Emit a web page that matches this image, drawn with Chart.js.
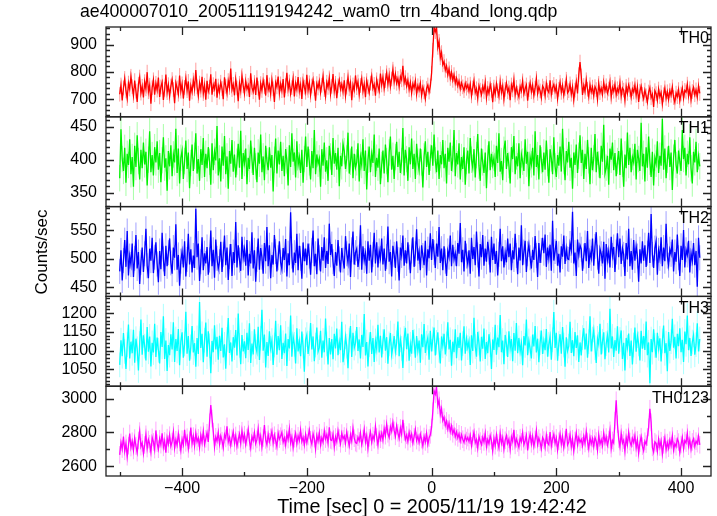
<!DOCTYPE html>
<html><head><meta charset="utf-8">
<script src="https://cdn.jsdelivr.net/npm/chart.js@4.4.1/dist/chart.umd.min.js"></script>
<style>
html,body{margin:0;padding:0;background:#fff;}
#wrap{position:relative;width:717px;height:516px;overflow:hidden;}
#c{position:absolute;left:0;top:0;}
.t{position:absolute;font-family:"Liberation Sans",Arial,Helvetica,sans-serif;color:#000;white-space:nowrap;line-height:1;}
#ylab{width:100px;height:20px;line-height:20px;text-align:center;transform:rotate(-90deg);transform-origin:50% 50%;}
</style></head><body>
<div id="wrap">
<canvas id="c" width="717" height="516"></canvas>
<div class="t" id="title" style="left:80px;top:3px;font-size:17.7px;">ae400007010_20051119194242_wam0_trn_4band_long.qdp</div>
<div class="t" id="ylab" style="left:-8px;top:242px;font-size:17px;">Counts/sec</div>
<div class="t" id="xlab" style="left:432px;top:497px;font-size:19.8px;transform:translateX(-50%);">Time [sec] 0 = 2005/11/19 19:42:42</div>
</div>
<script>
// ---- data ----
const timeStart = -500;   // first bin centre (sec)
const timeStep = 2;       // bin width (sec)
const seriesNames = ['TH0','TH1','TH2','TH3','TH0123'];
const th0 = [
718,752,695,741,776,730,702,759,737,784,
746,713,768,729,690,755,781,722,747,706,
764,738,799,727,751,683,742,771,716,758,
733,779,708,745,762,697,736,790,724,753,
711,748,772,735,685,760,741,718,787,729,
756,702,743,777,731,765,694,749,726,770,
738,807,745,712,759,733,782,720,751,698,
767,728,744,791,716,753,737,775,705,748,
726,762,739,700,780,747,721,768,743,812,
735,754,714,773,741,692,758,730,786,749,
720,766,737,751,708,795,743,727,761,715,
779,740,698,757,732,769,746,713,788,734,
752,719,771,738,690,761,745,783,722,756,
731,774,706,750,797,737,763,719,742,776,
710,758,736,781,729,753,701,767,744,725,
789,732,760,715,748,772,739,694,757,741,
766,724,751,785,735,709,762,743,778,718,
747,792,730,758,703,749,771,736,755,727,
769,712,744,781,738,760,696,752,733,787,
742,763,717,750,776,729,755,707,768,745,
723,759,785,739,754,713,771,748,730,794,
752,781,739,768,797,755,788,746,774,810,
763,792,758,776,745,783,771,822,760,779,
748,770,735,761,722,756,741,767,718,749,
733,758,714,744,727,701,739,752,726,748,
795,880,965,948,962,890,912,852,871,826,
838,806,822,789,811,776,798,769,790,758,
777,749,766,738,760,745,731,758,740,752,
729,755,712,741,768,724,738,703,749,733,
716,747,728,762,705,739,721,754,732,689,
744,718,757,731,710,763,725,748,700,736,
759,727,741,696,752,734,771,715,743,722,
708,746,730,767,719,738,752,694,735,760,
727,751,713,740,776,721,745,730,705,748,
739,712,758,733,724,769,717,742,754,728,
747,701,736,762,725,750,714,739,773,723,
731,756,718,745,697,733,764,721,790,836,
785,715,750,728,771,736,709,753,726,744,
712,746,735,699,758,724,740,717,762,730,
749,722,737,764,708,743,729,755,716,738,
725,760,711,741,733,696,747,721,752,735,
707,738,726,752,714,745,690,729,748,718,
701,733,712,689,726,742,705,718,671,731,
720,695,737,709,724,682,716,741,703,727,
698,731,714,745,706,688,722,709,735,694,
719,740,703,732,726,755,711,738,697,728,
743,716,734,707,749,721];
const th1 = [
372,446,401,383,418,365,409,392,431,378,
404,359,421,389,437,398,370,415,387,426,
393,412,361,400,443,381,407,376,419,396,
428,385,410,366,399,434,388,402,353,413,
390,422,375,408,396,447,380,417,364,403,
414,371,398,429,386,411,357,395,423,383,
406,440,379,401,368,416,392,433,374,409,
387,419,397,362,425,384,412,399,451,376,
402,367,420,391,436,378,405,356,413,394,
430,382,408,373,397,424,388,444,371,410,
395,417,363,403,386,429,400,377,418,390,
366,411,394,438,381,405,369,421,398,384,
419,388,407,352,400,432,379,414,393,427,
383,406,375,416,399,361,422,389,440,397,
411,373,428,392,404,380,415,365,401,435,
389,420,396,370,413,387,445,378,408,394,
402,359,416,391,426,382,399,368,421,405,
377,433,394,410,385,418,360,406,390,424,
413,386,402,441,379,397,420,372,409,388,
396,425,367,404,392,431,383,414,355,400,
420,381,409,395,438,374,403,388,417,363,
392,414,379,423,398,366,411,435,385,406,
371,404,427,389,412,380,398,448,376,415,
401,368,419,393,432,386,409,371,424,397,
384,417,396,358,405,428,389,412,377,403,
422,391,438,399,381,414,371,407,393,430,
387,409,364,418,397,426,383,401,445,375,
410,393,425,370,404,386,419,362,398,414,
379,433,400,388,416,373,407,439,391,368,
417,396,380,411,357,402,428,384,409,392,
403,374,421,395,440,382,398,369,415,429,
386,410,392,364,419,401,436,378,405,390,
425,372,408,397,383,431,394,412,360,404,
393,418,376,443,389,407,370,422,399,381,
411,385,429,395,365,416,402,378,434,390,
374,407,391,420,382,447,398,369,413,396,
427,388,403,356,411,392,423,380,406,437,
395,415,371,409,386,430,399,363,418,384,
402,439,381,412,393,372,421,397,453,379,
388,406,362,417,400,426,384,410,375,398,
413,377,432,394,359,408,387,441,392,418,
381,404,396,424,370,415,401,383,456,390,
409,367,419,388,435,397,374,412,361,403,
394,428,380,406,391,462,385,417,372,400,
421,389,411,354,403,430,392,379,414,397,
383,445,401,418,376,409,393,434,387,364,
412,396,427,381,405,390];
const th2 = [
478,515,462,497,533,486,549,471,505,490,
527,468,501,542,483,512,456,494,520,477,
509,553,488,466,518,497,537,475,503,529,
491,459,514,482,546,500,470,523,487,511,
536,493,474,520,502,561,481,507,453,496,
513,485,531,469,499,544,490,517,476,506,
484,588,503,527,461,495,538,480,510,492,
521,472,498,550,487,516,467,534,501,483,
495,530,477,508,541,489,520,463,504,526,
470,512,493,565,485,524,498,479,539,502,
517,488,533,471,509,492,547,483,515,460,
499,536,481,519,503,474,528,496,556,487,
524,466,507,490,542,513,478,502,531,494,
482,519,498,535,469,510,489,582,505,476,
511,493,544,480,523,501,465,529,496,518,
489,527,505,472,515,550,487,509,473,536,
502,478,521,497,538,484,514,491,562,507,
526,495,470,512,488,533,500,476,519,498,
483,540,509,493,527,468,516,548,490,511,
518,486,503,559,481,522,497,510,474,531,
497,525,476,508,546,492,529,485,514,501,
536,490,518,479,504,557,495,512,469,523,
508,484,531,499,462,520,506,541,488,515,
492,529,503,475,514,538,486,509,552,497,
513,480,524,506,489,532,471,517,501,545,
498,535,511,484,527,504,556,493,518,480,
522,496,470,514,503,541,487,525,499,510,
487,528,509,563,494,516,478,532,505,491,
515,474,537,500,521,489,548,507,469,526,
503,542,488,518,495,530,512,476,539,498,
527,491,514,471,508,553,496,522,485,511,
494,536,503,527,480,515,499,544,506,473,
520,497,559,489,512,532,477,509,525,502,
483,516,498,540,506,468,528,493,515,537,
510,543,486,520,501,525,479,567,497,513,
532,488,509,476,522,504,541,491,518,500,
499,527,515,583,492,511,470,534,507,524,
517,479,505,528,496,549,484,512,501,536,
488,522,547,503,474,518,509,492,530,465,
526,498,514,485,539,506,521,477,512,545,
503,536,491,519,508,470,528,499,553,487,
514,481,533,497,522,505,460,517,492,531,
497,524,486,510,546,493,579,508,484,519,
531,472,515,501,538,487,520,496,562,505,
489,517,508,534,478,512,495,543,502,470,
523,498,551,485,516,507,532,476,510,496,
528,489,514,451,537,502];
const th3 = [
1062,1128,1085,1147,1098,1051,1116,1170,1079,1124,
1093,1156,1068,1132,1105,1047,1119,1183,1089,1141,
1112,1074,1163,1097,1138,1058,1121,1095,1172,1083,
1135,1101,1066,1150,1110,1192,1078,1127,1046,1115,
1088,1144,1103,1176,1070,1131,1099,1158,1061,1125,
1149,1081,1118,1204,1092,1139,1073,1110,1166,1095,
1120,1057,1134,1091,1230,1107,1145,1069,1128,1175,
1084,1152,1113,1040,1126,1096,1168,1103,1137,1076,
1140,1099,1161,1082,1117,1052,1130,1187,1094,1122,
1071,1136,1108,1155,1087,1199,1114,1064,1142,1098,
1125,1080,1148,1102,1173,1067,1119,1090,1157,1111,
1096,1164,1075,1133,1209,1100,1143,1055,1123,1086,
1152,1106,1127,1062,1115,1180,1089,1139,1101,1168,
1078,1121,1093,1146,1059,1131,1106,1194,1084,1137,
1117,1066,1160,1098,1125,1085,1151,1112,1044,1129,
1143,1091,1119,1174,1103,1138,1072,1115,1162,1097,
1108,1153,1081,1127,1096,1186,1118,1063,1134,1090,
1131,1077,1145,1106,1159,1088,1124,1101,1177,1069,
1094,1137,1112,1053,1128,1166,1083,1148,1107,1120,
1163,1099,1130,1079,1142,1110,1198,1087,1123,1058,
1116,1150,1091,1134,1070,1126,1104,1169,1095,1140,
1082,1124,1157,1100,1136,1065,1118,1147,1089,1111,
1139,1097,1121,1178,1085,1129,1106,1054,1133,1161,
1104,1146,1073,1117,1092,1155,1125,1081,1139,1100,
1127,1068,1144,1109,1171,1094,1120,1135,1076,1153,
1098,1131,1162,1087,1122,1149,1101,1066,1138,1113,
1145,1090,1118,1176,1103,1129,1060,1124,1096,1157,
1080,1136,1107,1148,1074,1119,1165,1092,1132,1108,
1126,1062,1141,1099,1188,1111,1084,1150,1120,1071,
1137,1105,1159,1078,1123,1093,1144,1116,1051,1130,
1102,1169,1089,1135,1109,1195,1096,1127,1064,1142,
1118,1083,1152,1106,1131,1072,1147,1100,1174,1093,
1134,1097,1120,1061,1139,1114,1183,1088,1126,1105,
1079,1143,1111,1166,1095,1132,1069,1121,1154,1091,
1125,1101,1158,1084,1117,1138,1076,1129,1203,1107,
1148,1073,1119,1144,1092,1163,1115,1057,1136,1099,
1112,1177,1094,1128,1085,1150,1107,1141,1070,1122,
1087,1135,1160,1103,1146,1081,1124,1192,1098,1131,
1155,1108,1067,1133,1117,1172,1090,1125,1149,1077,
1119,1141,1095,1212,1106,1138,1083,1128,1100,1165,
1092,1130,1154,1078,1121,1047,1134,1109,1146,1086,
1127,1063,1115,1162,1097,1140,1118,1074,1153,1105,
1139,1102,1178,1088,1122,1013,1131,1096,1157,1114,
1081,1148,1106,1133,1071,1126,1167,1093,1120,1045,
1150,1099,1124,1185,1108,1137,1079,1145,1112,1160,
1096,1129,1070,1151,1117,1194,1101,1134,1086,1123,
1142,1089,1116,1173,1098,1131];
const th0123 = [
2668,2741,2702,2776,2689,2735,2657,2722,2794,2711,
2748,2694,2767,2720,2681,2753,2808,2716,2739,2675,
2726,2789,2705,2758,2733,2684,2771,2744,2699,2812,
2737,2701,2763,2728,2795,2712,2750,2680,2769,2731,
2784,2719,2746,2803,2708,2757,2725,2792,2741,2693,
2760,2727,2815,2739,2772,2703,2754,2829,2735,2778,
2721,2796,2745,2768,2712,2783,2740,2807,2730,2763,
2798,2744,2860,2962,2882,2805,2715,2774,2749,2801,
2732,2779,2751,2710,2788,2765,2836,2743,2771,2724,
2766,2804,2738,2782,2719,2757,2791,2736,2810,2753,
2787,2729,2770,2818,2747,2708,2776,2752,2799,2734,
2759,2822,2741,2779,2713,2767,2843,2756,2728,2790,
2745,2771,2807,2737,2784,2750,2716,2797,2761,2778,
2801,2742,2768,2725,2793,2758,2821,2739,2774,2710,
2763,2795,2734,2780,2752,2814,2746,2772,2727,2788,
2740,2776,2815,2757,2731,2792,2764,2702,2782,2749,
2798,2726,2769,2743,2809,2761,2787,2738,2830,2756,
2752,2790,2714,2773,2745,2811,2767,2733,2796,2762,
2779,2737,2803,2758,2721,2786,2748,2825,2766,2740,
2735,2772,2751,2797,2729,2764,2818,2744,2783,2706,
2768,2804,2742,2781,2757,2836,2773,2725,2794,2760,
2796,2755,2823,2781,2849,2792,2770,2834,2806,2861,
2812,2777,2840,2798,2766,2827,2789,2875,2803,2758,
2784,2746,2802,2763,2791,2737,2775,2818,2752,2779,
2741,2789,2758,2720,2776,2744,2795,2730,2767,2786,
2829,2925,3045,3025,3065,2960,2990,2905,2940,2870,
2890,2842,2868,2820,2855,2805,2838,2792,2818,2775,
2803,2768,2792,2750,2786,2760,2741,2779,2752,2770,
2746,2783,2721,2764,2802,2738,2759,2707,2776,2749,
2728,2771,2744,2795,2716,2758,2733,2781,2752,2690,
2765,2722,2786,2740,2709,2793,2736,2770,2701,2754,
2781,2735,2760,2699,2773,2747,2815,2724,2762,2738,
2712,2769,2745,2798,2727,2751,2783,2694,2757,2790,
2733,2776,2718,2758,2812,2729,2766,2742,2704,2771,
2755,2713,2784,2739,2727,2803,2720,2762,2789,2736,
2768,2696,2748,2792,2731,2775,2711,2757,2821,2726,
2744,2787,2716,2763,2690,2752,2798,2728,2769,2742,
2759,2721,2776,2735,2806,2747,2705,2771,2733,2764,
2717,2770,2749,2695,2785,2731,2757,2722,2796,2741,
2773,2726,2758,2812,2705,2753,2738,2870,2990,2849,
2761,2716,2794,2737,2755,2689,2770,2728,2801,2746,
2723,2765,2741,2782,2709,2756,2678,2738,2775,2719,
2692,2748,2731,2773,2830,2940,2860,2712,2684,2745,
2736,2688,2760,2714,2751,2672,2727,2769,2698,2740,
2707,2754,2722,2779,2696,2733,2716,2762,2743,2681,
2729,2771,2704,2752,2738,2796,2719,2757,2700,2744,
2763,2718,2749,2734,2778,2727];
// typical 1-sigma error of each series (counts/sec)
const errTH0 = 27, errTH1 = 20, errTH2 = 22, errTH3 = 33, errTH0123 = 52;
// tick labels
const xTickValues = [-400, -200, 0, 200, 400];
const xMinorValues = [-500, -300, -100, 100, 300];
const ticksTH0 = [700, 800, 900];
const ticksTH1 = [350, 400, 450];
const ticksTH2 = [450, 500, 550];
const ticksTH3 = [1050, 1100, 1150, 1200];
const ticksTH0123 = [2600, 2800, 3000];

// ---- layout / style ----
const FONT = '"Liberation Sans", Arial, Helvetica, sans-serif';
const panels = [
  {name:seriesNames[0], vals:th0,    err:errTH0,    ticks:ticksTH0,    min:635,  max:965,  minor:20,  color:'#ff0000', ecol:'rgba(255,60,60,0.5)'},
  {name:seriesNames[1], vals:th1,    err:errTH1,    ticks:ticksTH1,    min:329,  max:465,  minor:10,  color:'#00f000', ecol:'rgba(80,255,80,0.5)'},
  {name:seriesNames[2], vals:th2,    err:errTH2,    ticks:ticksTH2,    min:434,  max:592,  minor:10,  color:'#0000ff', ecol:'rgba(70,70,255,0.5)'},
  {name:seriesNames[3], vals:th3,    err:errTH3,    ticks:ticksTH3,    min:1005, max:1245, minor:10,  color:'#00ffff', ecol:'rgba(90,255,255,0.5)'},
  {name:seriesNames[4], vals:th0123, err:errTH0123, ticks:ticksTH0123, min:2543, max:3073, minor:100, color:'#ff00ff', ecol:'rgba(255,80,255,0.5)'}
];
const times = th0.map((_, i) => timeStart + i * timeStep);

const datasets = panels.map((p, i) => ({
  label: p.name,
  yAxisID: 'y' + i,
  data: times.map((t, j) => ({x: t, y: p.vals[j]})),
  borderColor: p.color,
  borderWidth: 1.3,
  pointRadius: 0,
  tension: 0,
  fill: false,
  errVal: p.err,
  errColor: p.ecol
}));

const scales = {
  x: {
    type: 'linear', position: 'bottom', min: -522, max: 448,
    grid: {display: false, drawTicks: false}, border: {display: false},
    afterBuildTicks: s => { s.ticks = xTickValues.map(v => ({value: v})); },
    afterFit: s => { s.height = 40; },
    ticks: {
      autoSkip: false, color: '#000', padding: 3,
      font: {family: FONT, size: 16},
      callback: v => (v < 0 ? '\u2212' + Math.abs(v) : String(v))
    }
  }
};
panels.forEach((p, i) => {
  scales['y' + i] = {
    type: 'linear', position: 'left', stack: 'panels', stackWeight: 1, weight: 10 - i,
    min: p.min, max: p.max,
    grid: {display: false, drawTicks: false}, border: {display: false},
    afterBuildTicks: s => { s.ticks = p.ticks.map(v => ({value: v})); },
    afterFit: s => { s.width = 106; },
    ticks: {autoSkip: false, color: '#000', padding: 9, font: {family: FONT, size: 16, lineHeight: 1},
            callback: v => String(v)}
  };
});

const panelPlugin = {
  id: 'panelPlugin',
  beforeDatasetDraw(chart, args) {
    const meta = chart.getDatasetMeta(args.index);
    const ds = chart.data.datasets[args.index];
    const xs = meta.xScale, ys = meta.yScale;
    const ctx = chart.ctx;
    ctx.save();
    ctx.beginPath();
    ctx.rect(xs.left, ys.top, xs.right - xs.left, ys.bottom - ys.top);
    ctx.clip();
    ctx.strokeStyle = ds.errColor;
    ctx.lineWidth = 1;
    ctx.beginPath();
    ds.data.forEach(pt => {
      const px = xs.getPixelForValue(pt.x);
      ctx.moveTo(px, ys.getPixelForValue(pt.y - ds.errVal));
      ctx.lineTo(px, ys.getPixelForValue(pt.y + ds.errVal));
    });
    ctx.stroke();
    ctx.restore();
  },
  afterDraw(chart) {
    const ctx = chart.ctx;
    const xs = chart.scales.x;
    const L = xs.left, R = xs.right;
    ctx.save();
    ctx.strokeStyle = '#222';
    ctx.lineWidth = 1.3;
    panels.forEach((p, i) => {
      const ys = chart.scales['y' + i];
      const T = ys.top, B = ys.bottom;
      ctx.beginPath();
      const start = Math.ceil(p.min / p.minor) * p.minor;
      for (let v = start; v <= p.max; v += p.minor) {
        const y = Math.round(ys.getPixelForValue(v)) + 0.5;
        const len = p.ticks.includes(v) ? 8 : 4;
        ctx.moveTo(L, y); ctx.lineTo(L + len, y);
        ctx.moveTo(R, y); ctx.lineTo(R - len, y);
      }
      xTickValues.concat(xMinorValues).forEach(v => {
        const x = Math.round(xs.getPixelForValue(v)) + 0.5;
        const len = xTickValues.includes(v) ? 8 : 4;
        ctx.moveTo(x, T); ctx.lineTo(x, T + len);
        ctx.moveTo(x, B); ctx.lineTo(x, B - len);
      });
      ctx.stroke();
      ctx.strokeRect(L, T, R - L, B - T);
      ctx.fillStyle = '#000';
      ctx.font = '16px ' + FONT;
      ctx.textAlign = 'right';
      ctx.textBaseline = 'top';
      ctx.fillText(p.name, R - 2, T + 4);
    });
    ctx.restore();
  }
};

new Chart(document.getElementById('c'), {
  type: 'line',
  data: {datasets},
  options: {
    responsive: false, animation: false, devicePixelRatio: 1,
    layout: {padding: {left: 0, right: 6, top: 27, bottom: 0}},
    plugins: {legend: {display: false}, tooltip: {enabled: false}, title: {display: false}},
    scales
  },
  plugins: [panelPlugin]
});
</script>
</body></html>
